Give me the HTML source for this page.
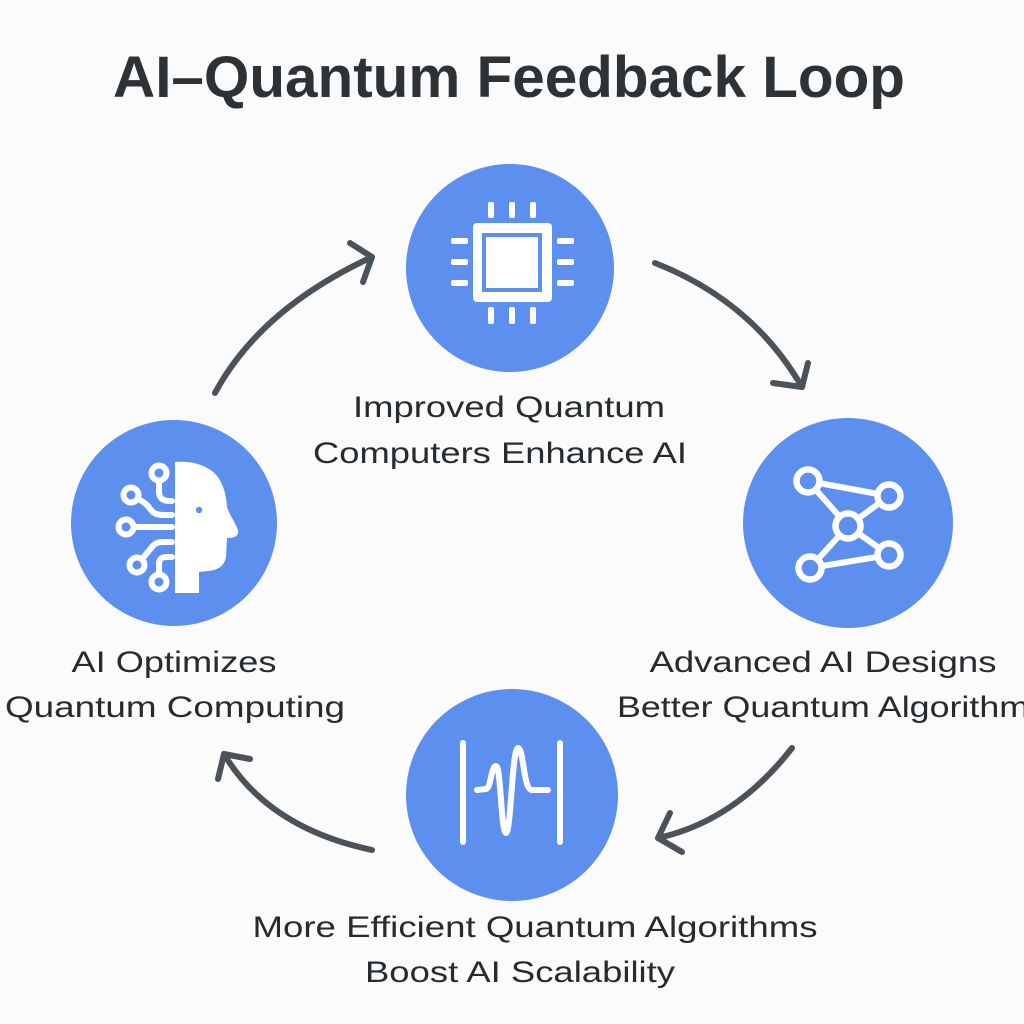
<!DOCTYPE html>
<html>
<head>
<meta charset="utf-8">
<style>
  html,body{margin:0;padding:0;background:#fbfbfb;}
  svg{display:block;}
  text{font-family:"Liberation Sans", Arial, sans-serif;}
</style>
</head>
<body>
<svg width="1024" height="1024" viewBox="0 0 1024 1024" xmlns="http://www.w3.org/2000/svg">
  <rect width="1024" height="1024" fill="#fbfbfb"/>

  <!-- Title -->
  <text x="509" y="97" text-anchor="middle" font-size="58" font-weight="700" fill="#2d3236" textLength="792" lengthAdjust="spacingAndGlyphs">AI–Quantum Feedback Loop</text>

  <!-- Circles -->
  <circle cx="510" cy="268" r="104" fill="#5d90ee"/>
  <circle cx="174" cy="523" r="103" fill="#5d90ee"/>
  <circle cx="848" cy="523" r="105" fill="#5d90ee"/>
  <circle cx="512" cy="795" r="106" fill="#5d90ee"/>

  <!-- Chip icon -->
  <g fill="#ffffff">
    <rect x="473" y="223" width="79" height="79" rx="4"/>
    <rect x="482" y="233" width="60" height="59" fill="#5d90ee"/>
    <rect x="486" y="237" width="52" height="51" rx="1"/>
    <!-- top pins -->
    <rect x="488" y="202" width="6" height="16" rx="2"/>
    <rect x="509" y="202" width="6" height="16" rx="2"/>
    <rect x="530" y="202" width="6" height="16" rx="2"/>
    <!-- bottom pins -->
    <rect x="488" y="307" width="6" height="17" rx="2"/>
    <rect x="509" y="307" width="6" height="17" rx="2"/>
    <rect x="530" y="307" width="6" height="17" rx="2"/>
    <!-- left pins -->
    <rect x="451" y="238" width="17" height="6" rx="2"/>
    <rect x="451" y="259" width="17" height="6" rx="2"/>
    <rect x="451" y="280" width="17" height="6" rx="2"/>
    <!-- right pins -->
    <rect x="557" y="238" width="17" height="6" rx="2"/>
    <rect x="557" y="259" width="17" height="6" rx="2"/>
    <rect x="557" y="280" width="17" height="6" rx="2"/>
  </g>

  <!-- Head icon -->
  <path d="M175,462 C185,461 200,462 212,471 C222,479 226,492 227,507 C230,516 235,522 238,530 C239,535 236,538 227,538 L226,556 C225,566 218,570 208,571 L199,572 L199,593 L175,593 Z" fill="#ffffff"/>
  <circle cx="199" cy="510" r="3.2" fill="#5d90ee"/>
  <g fill="none" stroke="#ffffff" stroke-width="6" stroke-linecap="round">
    <circle cx="159" cy="473" r="7.5"/>
    <path d="M159,481 L159,492 C159,498 163,501 169,501 L172,501"/>
    <circle cx="131" cy="495" r="7.5"/>
    <path d="M138,499 C146,503 148,506 151,510 C154,514 158,515 164,515 L172,515"/>
    <circle cx="126" cy="527" r="7.5"/>
    <path d="M134,527 L172,527"/>
    <circle cx="137" cy="565" r="7.5"/>
    <path d="M142,559 L152,547 C155,543 158,542 164,542 L172,542"/>
    <circle cx="159" cy="582" r="7.5"/>
    <path d="M159,574 L159,564 C159,559 162,557 167,557 L172,557"/>
  </g>

  <!-- Network icon -->
  <g stroke="#ffffff" stroke-width="6" fill="none" stroke-linecap="round">
    <line x1="808" y1="481" x2="889" y2="496"/>
    <line x1="808" y1="481" x2="848" y2="526"/>
    <line x1="889" y1="496" x2="848" y2="526"/>
    <line x1="848" y1="526" x2="810" y2="568"/>
    <line x1="848" y1="526" x2="889" y2="555"/>
    <line x1="810" y1="568" x2="889" y2="555"/>
  </g>
  <g stroke="#ffffff" stroke-width="6.5" fill="#5d90ee">
    <circle cx="808" cy="481" r="11.5"/>
    <circle cx="889" cy="496" r="11.5"/>
    <circle cx="848" cy="526" r="12.5"/>
    <circle cx="810" cy="568" r="11.5"/>
    <circle cx="889" cy="555" r="11.5"/>
  </g>

  <!-- Wave icon -->
  <g stroke="#ffffff" stroke-width="6" fill="none" stroke-linecap="round" stroke-linejoin="round">
    <line x1="463" y1="743" x2="463" y2="842"/>
    <line x1="560" y1="743" x2="560" y2="842"/>
    <path d="M477,790 L486,789 C491,788 491,766 496,766 C501,766 501,833 506,833 C511,833 512,748 518,748 C524,748 523,790 532,790 L548,790"/>
  </g>

  <!-- Arrows -->
  <g stroke="#4b5259" stroke-width="6" fill="none" stroke-linecap="round" stroke-linejoin="round">
    <path d="M215,393 Q260,309 372,257"/>
    <polyline points="350,243 372,257 363,282"/>

    <path d="M655,263 Q752,301 802,387"/>
    <polyline points="773,383 802,387 808,363"/>

    <path d="M792,748 Q735,821 658,838"/>
    <polyline points="670,813 658,838 682,852"/>

    <path d="M372,850 Q268,828 224,754"/>
    <polyline points="250,759 224,754 218,779"/>
  </g>

  <!-- Labels -->
  <g font-size="30" fill="#262b2f">
    <text x="509" y="417" text-anchor="middle" textLength="312" lengthAdjust="spacingAndGlyphs">Improved Quantum</text>
    <text x="500" y="463" text-anchor="middle" textLength="374" lengthAdjust="spacingAndGlyphs">Computers Enhance AI</text>

    <text x="823" y="672" text-anchor="middle" textLength="347" lengthAdjust="spacingAndGlyphs">Advanced AI Designs</text>
    <text x="617" y="717" textLength="430" lengthAdjust="spacingAndGlyphs">Better Quantum Algorithms</text>

    <text x="174" y="672" text-anchor="middle" textLength="205" lengthAdjust="spacingAndGlyphs">AI Optimizes</text>
    <text x="175" y="717" text-anchor="middle" textLength="340" lengthAdjust="spacingAndGlyphs">Quantum Computing</text>

    <text x="535" y="937" text-anchor="middle" textLength="565" lengthAdjust="spacingAndGlyphs">More Efficient Quantum Algorithms</text>
    <text x="520" y="982" text-anchor="middle" textLength="310" lengthAdjust="spacingAndGlyphs">Boost AI Scalability</text>
  </g>
</svg>
</body>
</html>
